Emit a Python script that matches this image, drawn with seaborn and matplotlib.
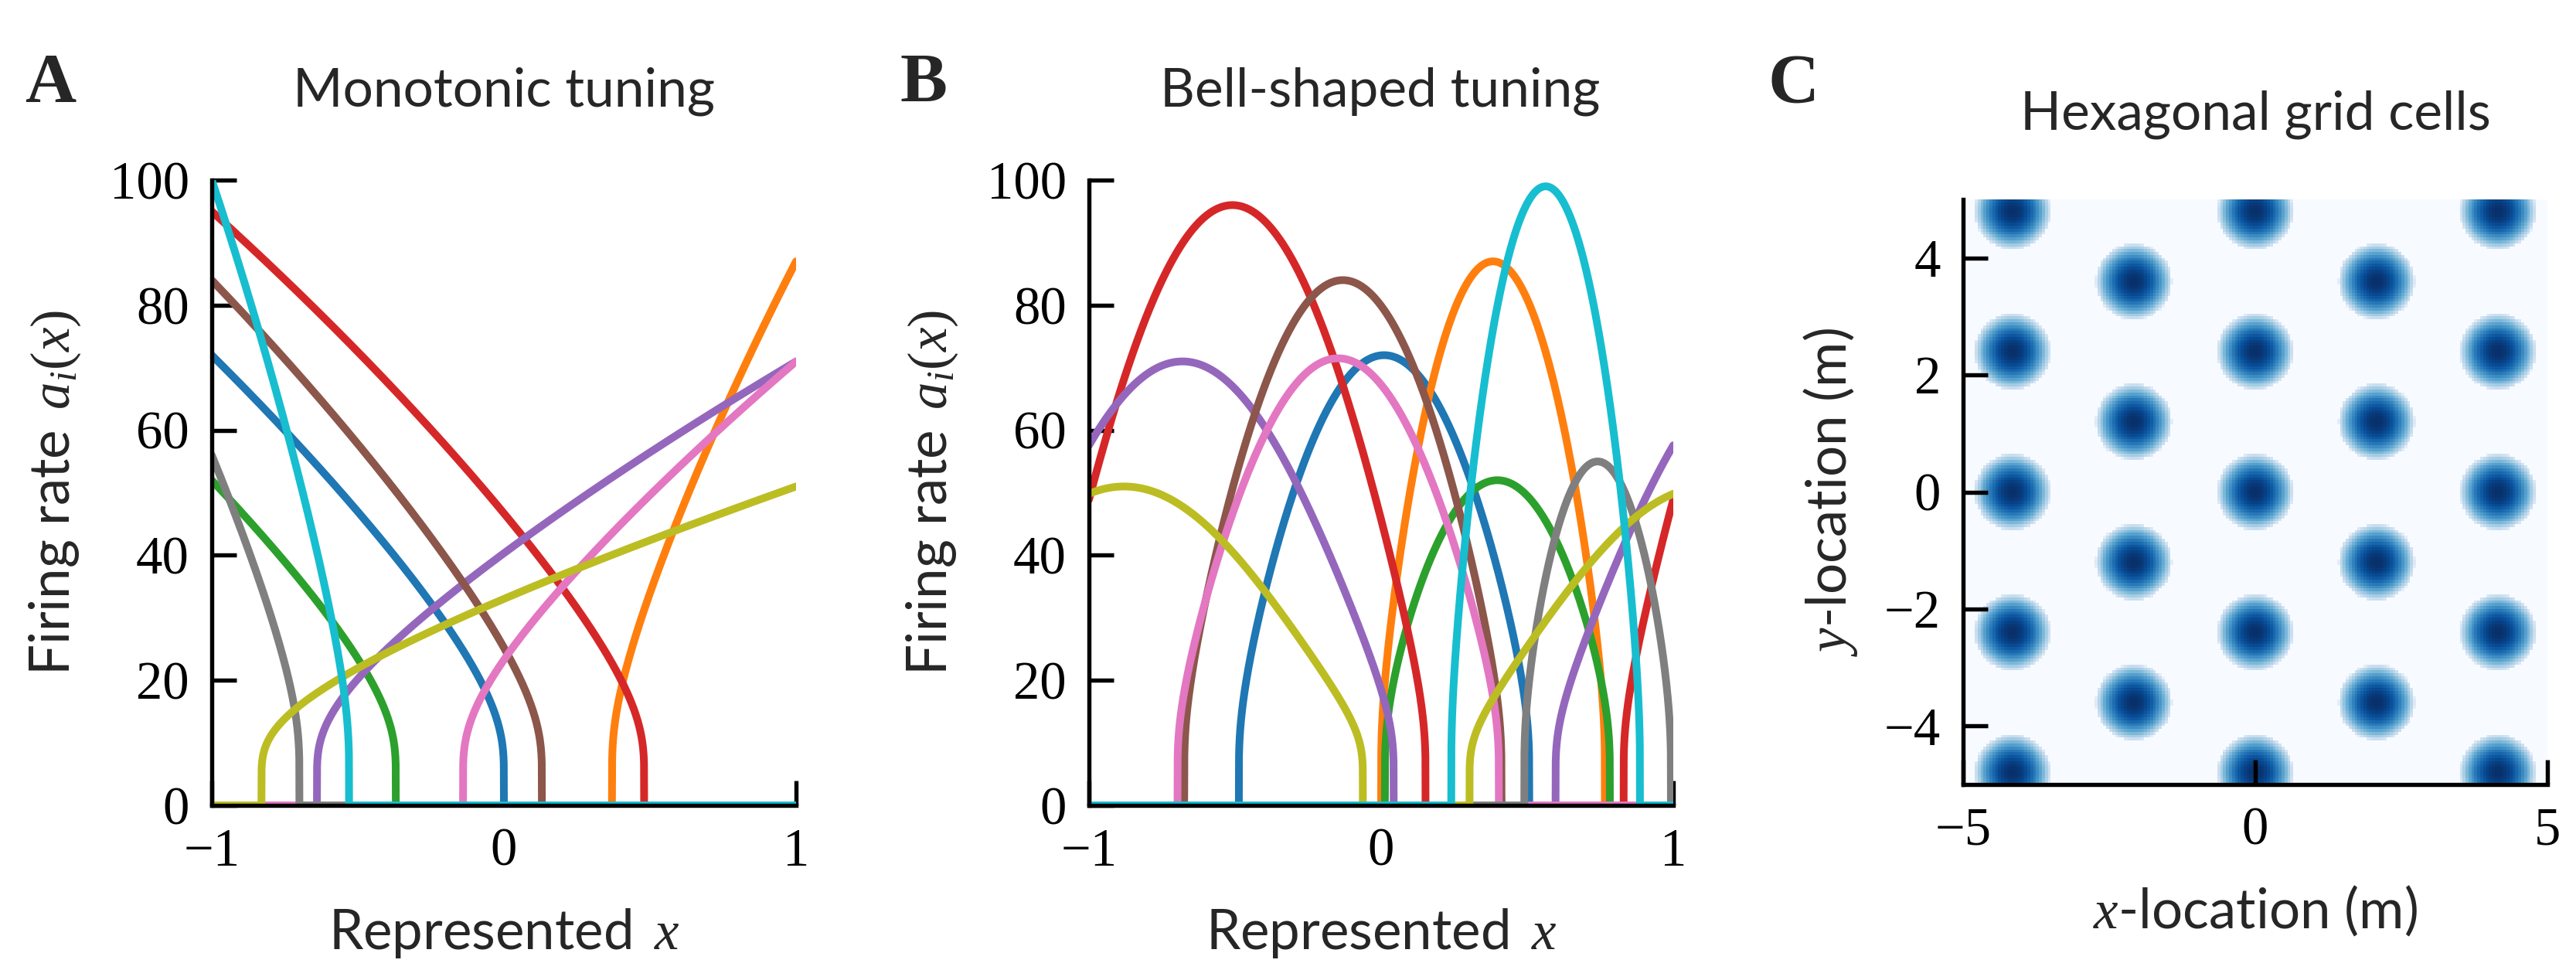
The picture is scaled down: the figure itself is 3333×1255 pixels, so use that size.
import numpy as np
import pandas as pd
import seaborn as sns
import matplotlib.pyplot as plt

# --- Values ---
# LIF neuron constants (standard nengo defaults)
TAU_RC = 0.02
TAU_REF = 0.002

# Panel A: monotonic tuning (encoder sign, x where rate hits zero, rate at x = +/-1)
mono_encoders = [-1, 1, -1, -1, 1, -1, 1, -1, 1, -1]
mono_zero_x = [0.0, 0.37, -0.37, 0.48, -0.64, 0.13, -0.14, -0.70, -0.83, -0.53]
mono_max_rate = [72, 87, 52, 95, 71, 84, 71, 56, 51, 100]

# Panel B: bell-shaped tuning on a circular x (period 2): preferred x, half width, peak rate
bell_center = [0.01, 0.383, 0.398, -0.509, -0.68, -0.131, -0.147, 0.741, -0.88, 0.563]
bell_halfwidth = [0.497, 0.383, 0.385, 0.661, 0.723, 0.543, 0.55, 0.251, 0.8175, 0.323]
bell_peak = [72, 87, 52, 96, 71, 84, 71.5, 55, 51, 99]

# Panel C: hexagonal grid cell
grid_spacing = 2.41       # m, distance between neighbouring fields
grid_phase = (0.0, 0.0)   # m, location of one field centre
field_radius = 0.66       # m
grid_max_rate = 100
grid_extent = [-5, 5]

x_ticks_ac = [-1, 0, 1]
y_ticks_ab = [0, 20, 40, 60, 80, 100]
x_ticks_c = [-5, 0, 5]
y_ticks_c = [-4, -2, 0, 2, 4]


def lif_rate(J):
    out = np.zeros_like(J)
    m = J > 1
    out[m] = 1.0 / (TAU_REF + TAU_RC * np.log1p(1.0 / (J[m] - 1.0)))
    return out


def gain_bias(intercept, max_rate):
    j_max = 1.0 / -np.expm1((TAU_REF - 1.0 / max_rate) / TAU_RC)
    gain = (j_max - 1.0) / (1.0 - intercept)
    return gain, 1.0 - gain * intercept


# --- Build curves ---
xs = np.linspace(-1, 1, 4001)
rows_a, rows_b = [], []
for i in range(10):
    e = mono_encoders[i]
    g, b = gain_bias(e * mono_zero_x[i], mono_max_rate[i])
    r = lif_rate(g * e * xs + b)
    rows_a.append(pd.DataFrame({'x': xs, 'rate': r, 'neuron': str(i)}))

    c = np.cos(np.pi * bell_halfwidth[i])
    g, b = gain_bias(c, bell_peak[i])
    r = lif_rate(g * np.cos(np.pi * (xs - bell_center[i])) + b)
    rows_b.append(pd.DataFrame({'x': xs, 'rate': r, 'neuron': str(i)}))
df_a = pd.concat(rows_a, ignore_index=True)
df_b = pd.concat(rows_b, ignore_index=True)

# grid cell map: sum of three plane waves 60 degrees apart
n = 200
gx = np.linspace(grid_extent[0], grid_extent[1], n)
GX, GY = np.meshgrid(gx, gx)
K = 4 * np.pi / (np.sqrt(3) * grid_spacing)
angles = np.deg2rad([0, 60, 120])


def waves(px, py):
    return sum(np.cos(K * (np.cos(a) * (px - grid_phase[0]) + np.sin(a) * (py - grid_phase[1])))
               for a in angles) / 3.0


thr = waves(np.array(0.0), np.array(field_radius))
g, b = gain_bias(float(thr), grid_max_rate)
grid_map = lif_rate(g * waves(GX, GY) + b)

# --- Style ---
sns.set_theme(style='ticks')
plt.rcParams['font.family'] = ['Lato', 'DejaVu Sans']
plt.rcParams['mathtext.fontset'] = 'custom'
plt.rcParams['mathtext.rm'] = 'Liberation Serif'
plt.rcParams['mathtext.it'] = 'Liberation Serif:italic'
plt.rcParams['axes.linewidth'] = 1.3
plt.rcParams['axes.edgecolor'] = 'black'

SERIF = 'Liberation Serif'
TICK_FS = 16.5
LABEL_FS = 17.0
palette = sns.color_palette('tab10', 10)

W, H = 3333, 1255
fig = plt.figure(figsize=(W / 300, H / 300), dpi=300)


def style_axes(ax):
    sns.despine(ax=ax)
    ax.tick_params(direction='in', length=7.7, width=1.3, pad=7, colors='black')
    for lab in ax.get_xticklabels() + ax.get_yticklabels():
        lab.set_fontfamily(SERIF)
        lab.set_fontsize(TICK_FS)


ax_a = fig.add_axes([274 / W, 1 - 1042 / H, 756 / W, 809 / H])
ax_b = fig.add_axes([1409 / W, 1 - 1042 / H, 756 / W, 809 / H])
ax_c = fig.add_axes([2540 / W, 1 - 1015 / H, 756 / W, 757 / H])

for ax, df in [(ax_a, df_a), (ax_b, df_b)]:
    sns.lineplot(data=df, x='x', y='rate', hue='neuron', palette=palette,
                 estimator=None, sort=False, legend=False, linewidth=2.4, ax=ax)
    ax.set_xlim(-1, 1)
    ax.set_ylim(0, 100)
    ax.set_xticks(x_ticks_ac)
    ax.set_yticks(y_ticks_ab)
    ax.set_xticklabels(['\u22121', '0', '1'])
    style_axes(ax)
    ax.set_xlabel('Represented $\\,x$', fontsize=LABEL_FS, va='baseline')
    ax.set_ylabel('Firing rate $\\,a_i(x)$', fontsize=LABEL_FS, va='baseline')
    ax.xaxis.set_label_coords(0.5, -0.2299)
    ax.yaxis.set_label_coords(-0.2434, 0.5)

ax_c.imshow(grid_map, origin='lower', cmap='Blues', vmin=0, vmax=grid_map.max(),
            extent=grid_extent + grid_extent, interpolation='nearest', aspect='auto')
ax_c.set_xlim(*grid_extent)
ax_c.set_ylim(*grid_extent)
ax_c.set_xticks(x_ticks_c)
ax_c.set_yticks(y_ticks_c)
ax_c.set_xticklabels(['\u22125', '0', '5'])
ax_c.set_yticklabels(['\u22124', '\u22122', '0', '2', '4'])
style_axes(ax_c)
ax_c.set_xlabel('$x$-location (m)', fontsize=LABEL_FS, va='baseline')
ax_c.set_ylabel('$y$-location (m)', fontsize=LABEL_FS, va='baseline')
ax_c.xaxis.set_label_coords(0.5, -0.2457)
ax_c.yaxis.set_label_coords(-0.20, 0.5)

# titles and panel letters
fig.text(652 / W, 1 - 138 / H, 'Monotonic tuning', ha='center', va='baseline', fontsize=16.7)
fig.text(1786 / W, 1 - 138 / H, 'Bell-shaped tuning', ha='center', va='baseline', fontsize=16.7)
fig.text(2918 / W, 1 - 168 / H, 'Hexagonal grid cells', ha='center', va='baseline', fontsize=16.7)
for letter, xpos, ypos in [('A', 32, 132), ('B', 1165, 132), ('C', 2288, 133)]:
    fig.text(xpos / W, 1 - ypos / H, letter, ha='left', va='baseline',
             fontsize=22, fontweight='bold', family=SERIF)

fig.savefig('out.png', dpi=300)
